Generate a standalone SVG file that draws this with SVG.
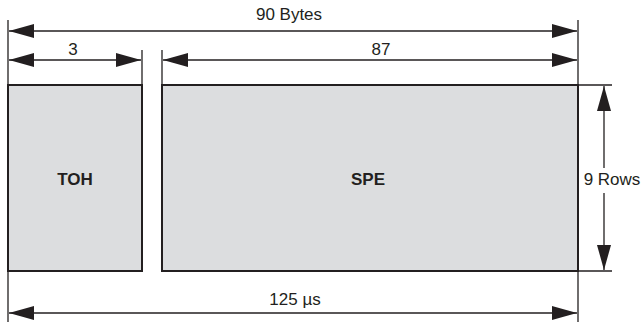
<svg xmlns="http://www.w3.org/2000/svg" width="644" height="322" viewBox="0 0 644 322">
<defs>
<style>
.ln{stroke:#231f20;stroke-width:1.3;fill:none}
.box{fill:#dcdddf;stroke:#231f20;stroke-width:2}
.t{font-family:"Liberation Sans",Arial,sans-serif;font-size:17px;fill:#231f20;text-anchor:middle}
.b{font-weight:bold}
</style>
<marker id="ah" viewBox="0 0 25 14" refX="25" refY="7" markerWidth="25" markerHeight="14" markerUnits="userSpaceOnUse" orient="auto-start-reverse">
<path d="M0,0 L25,7 L0,14 Z" fill="#231f20"/>
</marker>
</defs>
<rect width="644" height="322" fill="#fff"/>
<g id="connectors">
<line class="ln" x1="8" y1="20" x2="8" y2="322"/>
<line class="ln" x1="578" y1="20" x2="578" y2="322"/>
<line class="ln" x1="142" y1="50" x2="142" y2="85"/>
<line class="ln" x1="162" y1="50" x2="162" y2="85"/>
<line class="ln" x1="578" y1="85" x2="612" y2="85"/>
<line class="ln" x1="578" y1="271" x2="612" y2="271"/>
<line class="ln" x1="9" y1="31" x2="577" y2="31" marker-start="url(#ah)" marker-end="url(#ah)"/>
<line class="ln" x1="9" y1="60" x2="141" y2="60" marker-start="url(#ah)" marker-end="url(#ah)"/>
<line class="ln" x1="163" y1="60" x2="577" y2="60" marker-start="url(#ah)" marker-end="url(#ah)"/>
<line class="ln" x1="604" y1="168" x2="604" y2="86" marker-end="url(#ah)"/>
<line class="ln" x1="604" y1="193" x2="604" y2="270" marker-end="url(#ah)"/>
<line class="ln" x1="9" y1="313" x2="577" y2="313" marker-start="url(#ah)" marker-end="url(#ah)"/>
</g>
<g id="toh">
<rect class="box" x="8" y="85" width="134" height="186"/>
<text class="t b" x="75" y="185">TOH</text>
</g>
<g id="spe">
<rect class="box" x="162" y="85" width="416" height="186"/>
<text class="t b" x="368" y="185">SPE</text>
</g>
<g id="labels">
<text class="t" x="289" y="19.5">90 Bytes</text>
<text class="t" x="73" y="55">3</text>
<text class="t" x="381" y="55">87</text>
<text class="t" x="612" y="185">9 Rows</text>
<text class="t" x="295" y="305">125 µs</text>
</g>
</svg>
